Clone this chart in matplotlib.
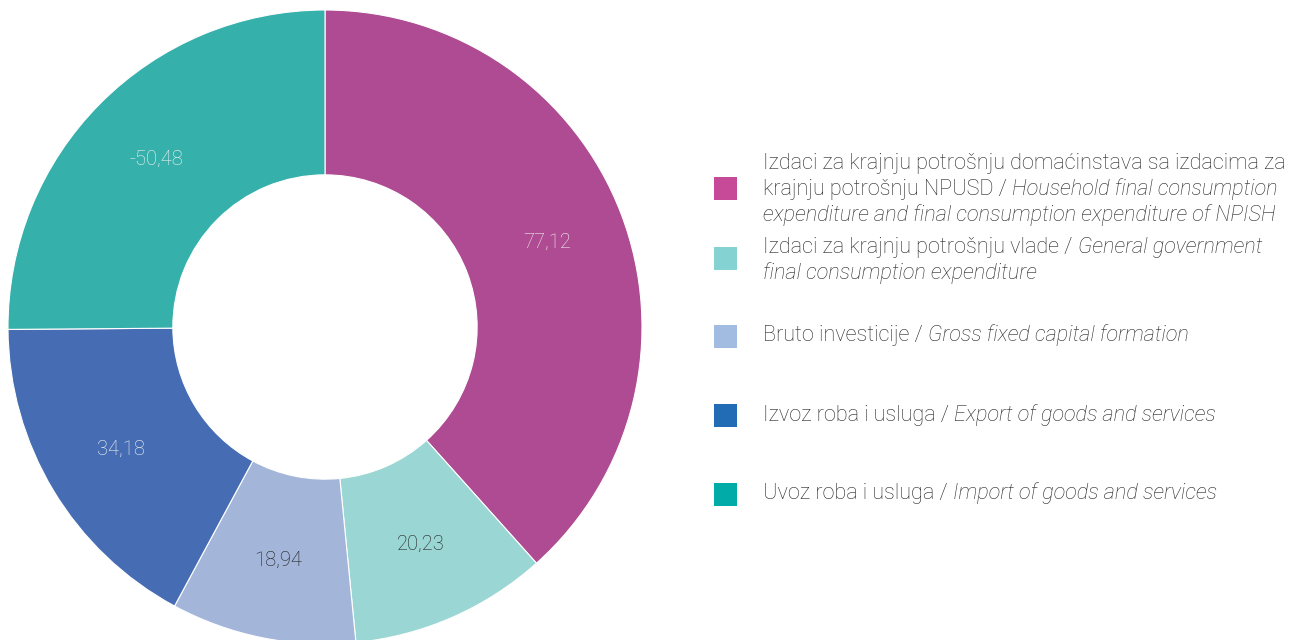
import numpy as np
import matplotlib
matplotlib.use("Agg")
import matplotlib.pyplot as plt
from matplotlib.patches import Rectangle

plt.rcParams['font.family'] = ['Roboto', 'DejaVu Sans']

# data
values = [77.12, 20.23, 18.94, 34.18, -50.48]
value_labels = ["77,12", "20,23", "18,94", "34,18", "-50,48"]
slice_colors = ["#AE4B92", "#9AD6D3", "#A3B6D9", "#466DB3", "#36B0AB"]
legend_colors = ["#C64A98", "#84D2D2", "#A1BCE0", "#226BB5", "#00ABA8"]
label_colors = ["#F4F4F4", "#1E1E1E", "#1E1E1E", "#F4F4F4", "#F4F4F4"]
# legend lines: list of (normal part, italic part) per line
legend_lines = [
    [("Izdaci za krajnju potrošnju domaćinstava sa izdacima za", ""),
     ("krajnju potrošnju NPUSD / ", "Household final consumption"),
     ("", "expenditure and final consumption expenditure of NPISH")],
    [("Izdaci za krajnju potrošnju vlade / ", "General government"),
     ("", "final consumption expenditure")],
    [("Bruto investicije / ", "Gross fixed capital formation")],
    [("Izvoz roba i usluga / ", "Export of goods and services")],
    [("Uvoz roba i usluga / ", "Import of goods and services")],
]

W, H = 1294, 640
fig = plt.figure(figsize=(W / 100, H / 100), dpi=100)

# donut
cx, cy, R = 325, 327, 317
ax = fig.add_axes([(cx - R) / W, (H - cy - R) / H, 2 * R / W, 2 * R / H])
wedges, _ = ax.pie(np.abs(values), colors=slice_colors, startangle=90,
                   counterclock=False, radius=1.0,
                   wedgeprops=dict(width=0.52, edgecolor="white", linewidth=0.8))
ax.set_xlim(-1, 1)
ax.set_ylim(-1, 1)
ax.set_aspect("equal")
ax.axis("off")

for w, lab, c in zip(wedges, value_labels, label_colors):
    th = np.deg2rad((w.theta1 + w.theta2) / 2)
    ax.text(0.75 * np.cos(th), 0.75 * np.sin(th), lab, color=c,
            fontsize=14.5, fontweight="light", ha="center", va="center")

# legend
fs = 15.6
txt_color = "#262626"
sq_x, sq_size, txt_x = 714, 23, 763
sq_centers = [188, 258, 336, 415, 494]
first_line_y = [163, 247, 336, 415, 494]
line_gap = 26

for i, lines in enumerate(legend_lines):
    yc = sq_centers[i]
    fig.patches.append(Rectangle((sq_x / W, 1 - (yc + sq_size / 2) / H),
                                 sq_size / W, sq_size / H,
                                 transform=fig.transFigure,
                                 facecolor=legend_colors[i], edgecolor="none"))
    for j, (normal, italic) in enumerate(lines):
        y = 1 - (first_line_y[i] + j * line_gap) / H
        if not normal:
            fig.text(txt_x / W, y, italic, fontsize=fs, fontweight="light",
                     style="italic", color=txt_color, ha="left", va="center")
            continue
        t = fig.text(txt_x / W, y, normal, fontsize=fs, fontweight="light",
                     color=txt_color, ha="left", va="center")
        if italic:
            ax.annotate(italic, xy=(1, 0), xycoords=t, xytext=(0, 0),
                        textcoords="offset points", fontsize=fs,
                        fontweight="light", style="italic", color=txt_color,
                        ha="left", va="bottom", annotation_clip=False)

fig.savefig("out.png", dpi=100)
